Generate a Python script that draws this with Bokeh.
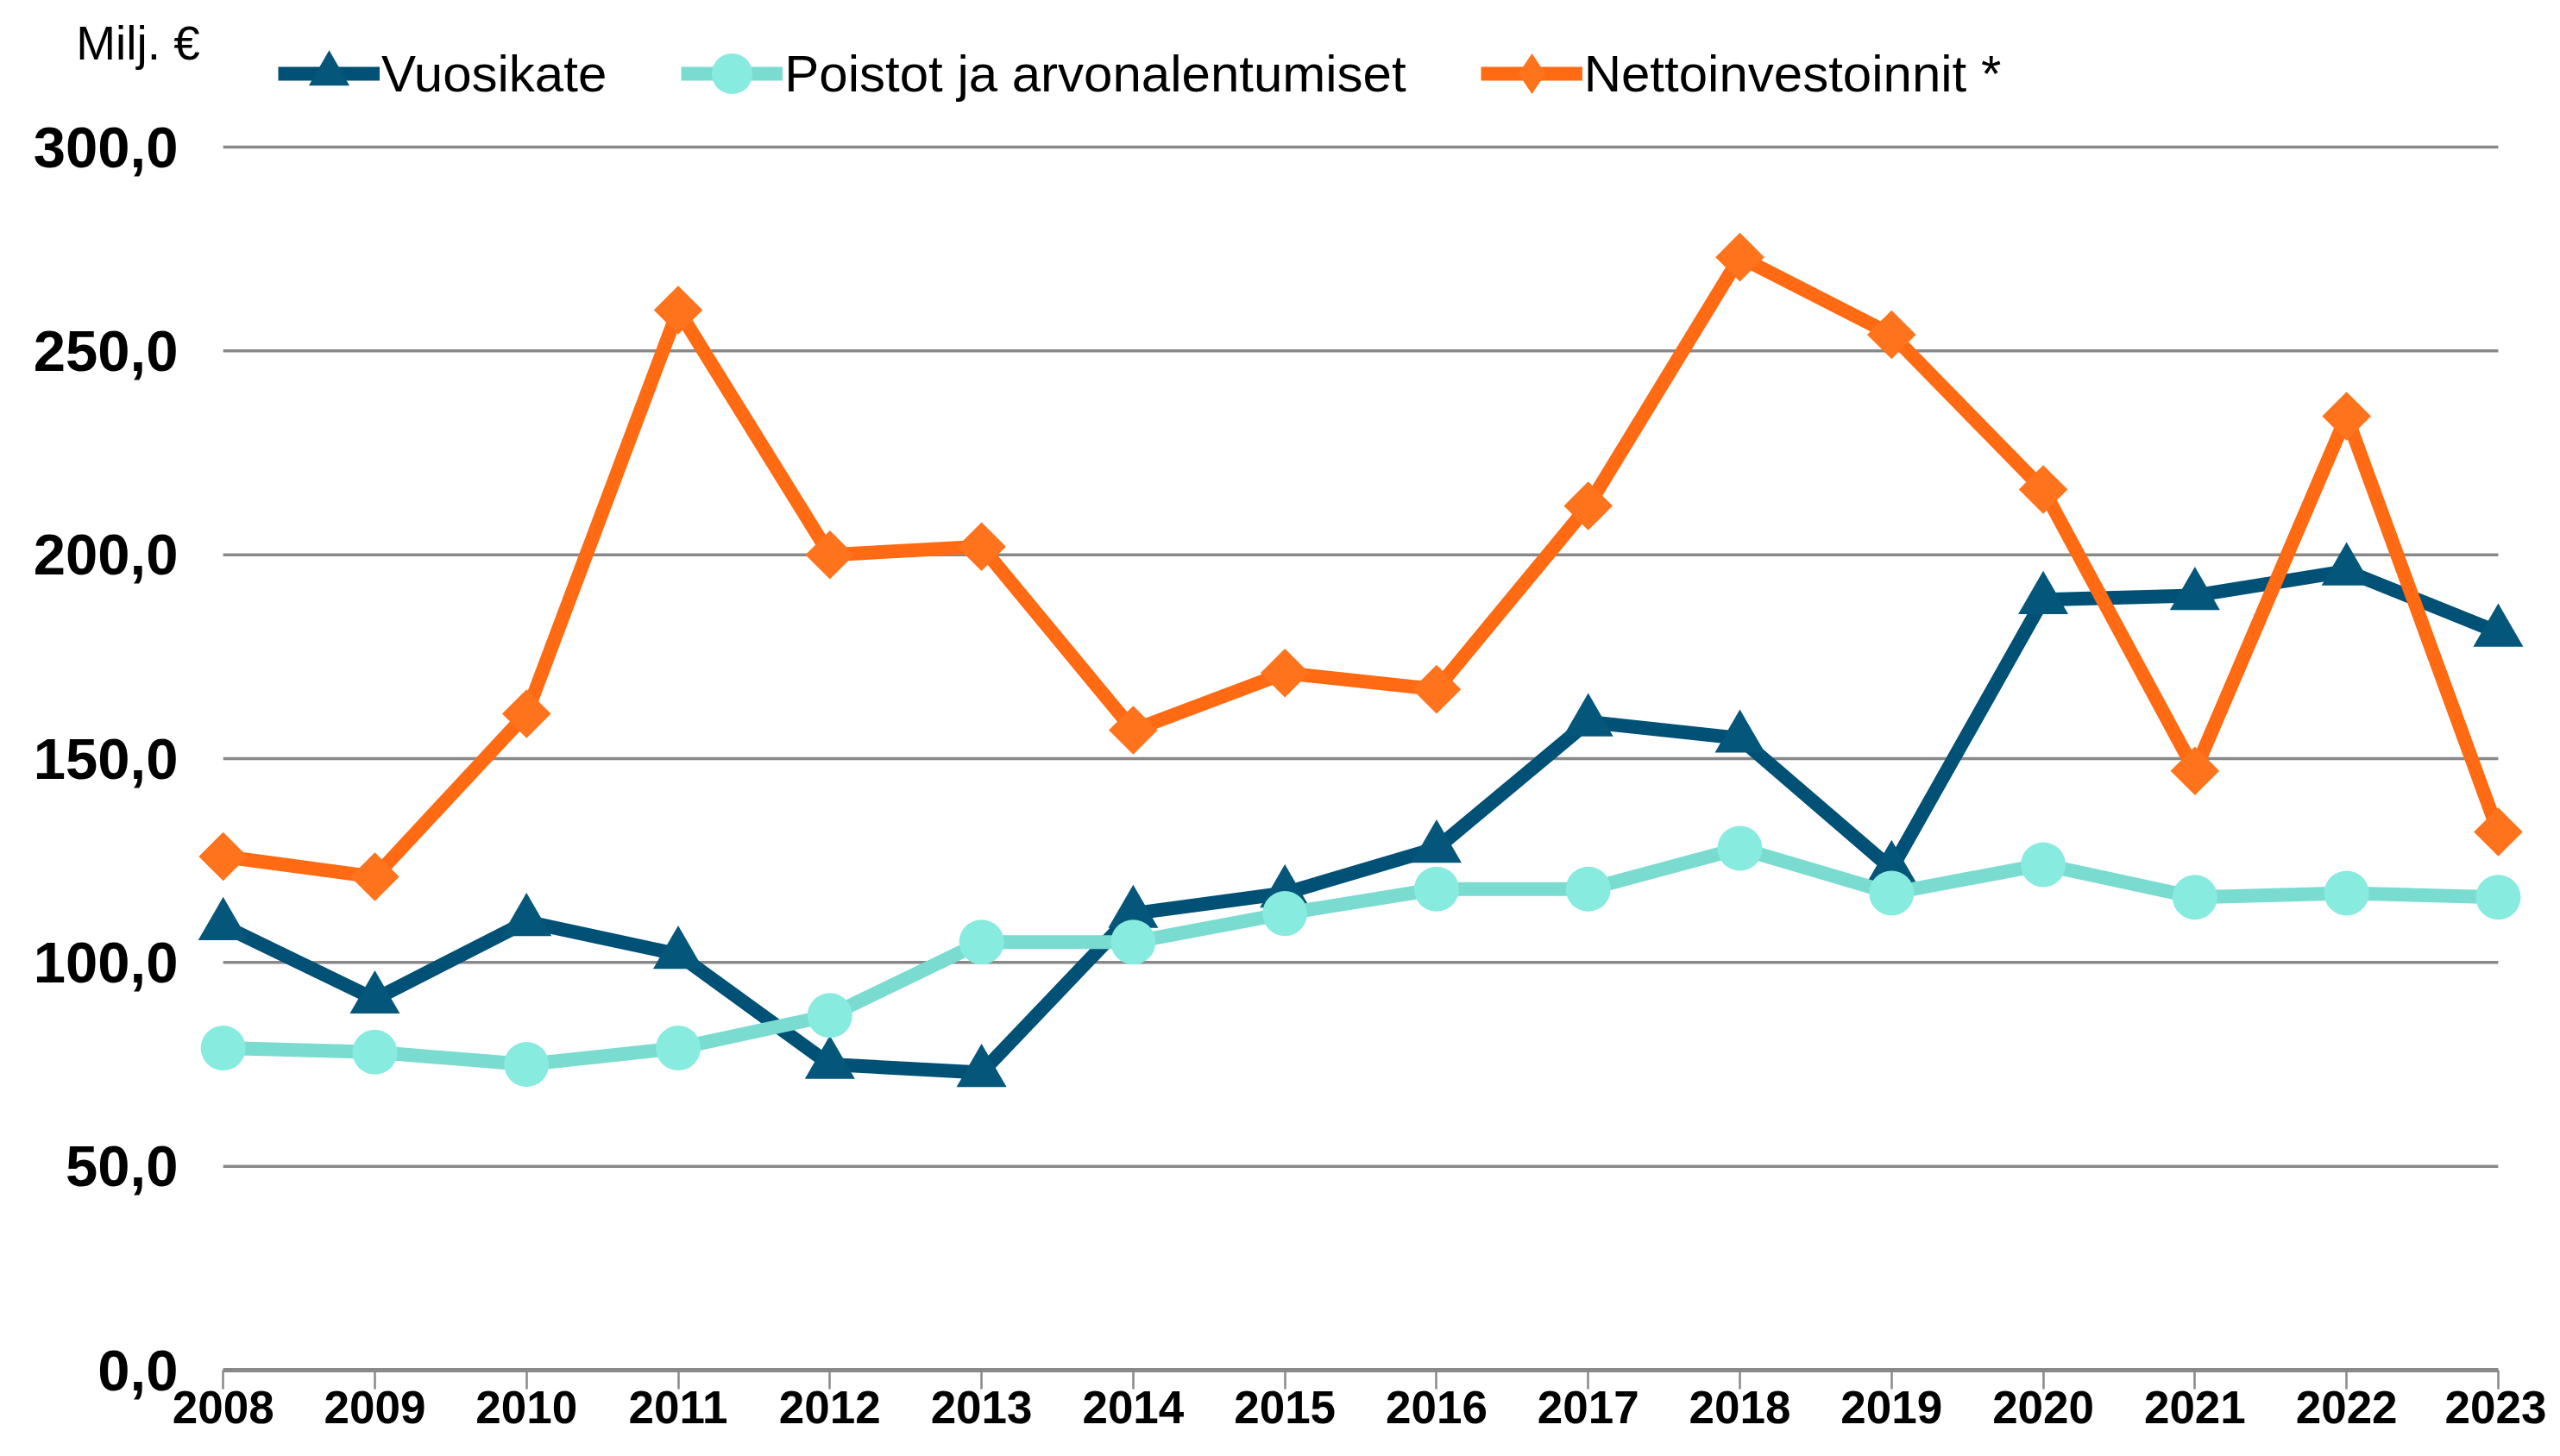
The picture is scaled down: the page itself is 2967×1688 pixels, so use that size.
from bokeh.plotting import figure
from bokeh.models import Range1d, FixedTicker, Legend, LegendItem
from bokeh.embed import file_html
from bokeh.resources import INLINE
import math

years = list(range(2008, 2024))
vuosikate = [109, 91, 110, 102, 75, 73, 112, 117, 128, 159, 155, 123, 189, 190, 196, 181]
poistot = [79, 78, 75, 79, 87, 105, 105, 112, 118, 118, 128, 117, 124, 116, 117, 116]
netto = [126, 121, 161, 260, 200, 202, 157, 171, 167, 212, 273, 254, 216, 147, 234, 132]

y_ticks = [0, 50, 100, 150, 200, 250, 300]
y_tick_labels = ["0,0", "50,0", "100,0", "150,0", "200,0", "250,0", "300,0"]
series_names = ["Vuosikate", "Poistot ja arvonalentumiset", "Nettoinvestoinnit *"]
unit_label = "Milj. €"

BLUE_L, BLUE_M = "#005175", "#05567B"
TURQ_L, TURQ_M = "#7ADCD0", "#88EBDF"
ORNG_L, ORNG_M = "#FF6A13", "#FF731C"
GRID = "#898989"

W, H = 2951, 1672
p = figure(width=W, height=H, output_backend="svg", toolbar_location=None,
           x_range=Range1d(2007.80, 2023.245), y_range=Range1d(0, 335.97),
           min_border_left=223, min_border_right=13, min_border_top=0,
           min_border_bottom=84)
p.outline_line_color = None
p.background_fill_color = "white"
p.border_fill_color = "white"
p.xgrid.visible = False
p.ygrid.visible = False

# gridlines spanning first to last category
gy = y_ticks[1:]
p.segment(x0=[years[0]] * len(gy), x1=[years[-1]] * len(gy), y0=gy, y1=gy,
          line_color=GRID, line_width=3.5)

# series
l1 = p.line(years, vuosikate, line_color=BLUE_L, line_width=16, line_join="round")
m1 = p.scatter(years, vuosikate, marker="triangle", size=58, fill_color=BLUE_M, line_color=None)
l2 = p.line(years, poistot, line_color=TURQ_L, line_width=16, line_join="round")
m2 = p.scatter(years, poistot, marker="circle", size=52, fill_color=TURQ_M, line_color=None)
l3 = p.line(years, netto, line_color=ORNG_L, line_width=16, line_join="round")
m3 = p.scatter(years, netto, marker="square", size=40, angle=math.pi / 4,
               fill_color=ORNG_M, line_color=None)
m3_leg = p.scatter(years, netto, marker="diamond", size=56, fill_color=ORNG_M,
                   line_color=None, visible=False)

# axes
xa = p.xaxis[0]
xa.ticker = FixedTicker(ticks=years)
xa.bounds = (years[0], years[-1])
xa.axis_line_color = GRID
xa.axis_line_width = 5
xa.major_tick_line_color = GRID
xa.major_tick_line_width = 2.5
xa.major_tick_out = 22
xa.major_tick_in = 0
xa.minor_tick_line_color = None
xa.major_label_standoff = 2
xa.major_label_text_font = "Liberation Sans"
xa.major_label_text_font_style = "bold"
xa.major_label_text_font_size = "53px"
xa.major_label_text_color = "black"

ya = p.yaxis[0]
ya.ticker = FixedTicker(ticks=y_ticks)
ya.major_label_overrides = dict(zip(y_ticks, y_tick_labels))
ya.axis_line_color = None
ya.major_tick_line_color = None
ya.minor_tick_line_color = None
ya.major_label_standoff = 11
ya.major_label_text_font = "Liberation Sans"
ya.major_label_text_font_style = "bold"
ya.major_label_text_font_size = "67px"
ya.major_label_text_color = "black"
ya.axis_label = "\n" + unit_label
ya.axis_label_orientation = "horizontal"
ya.axis_label_align = "end"
ya.axis_label_standoff = -196
ya.axis_label_text_font = "Liberation Sans"
ya.axis_label_text_font_style = "normal"
ya.axis_label_text_font_size = "55px"
ya.axis_label_text_line_height = 1.6
ya.axis_label_text_color = "black"

legend = Legend(items=[
    LegendItem(label=series_names[0], renderers=[l1, m1]),
    LegendItem(label=series_names[1], renderers=[l2, m2]),
    LegendItem(label=series_names[2], renderers=[l3, m3_leg]),
], orientation="horizontal", location=(99, 1444))
legend.glyph_width = 118
legend.glyph_height = 118
legend.label_standoff = 2
legend.spacing = 86
legend.padding = 0
legend.margin = 0
legend.border_line_color = None
legend.background_fill_alpha = 0
legend.label_text_font = "Liberation Sans"
legend.label_text_font_size = "60px"
legend.label_text_color = "black"
p.add_layout(legend)

open("out.html", "w").write(file_html(p, INLINE))
